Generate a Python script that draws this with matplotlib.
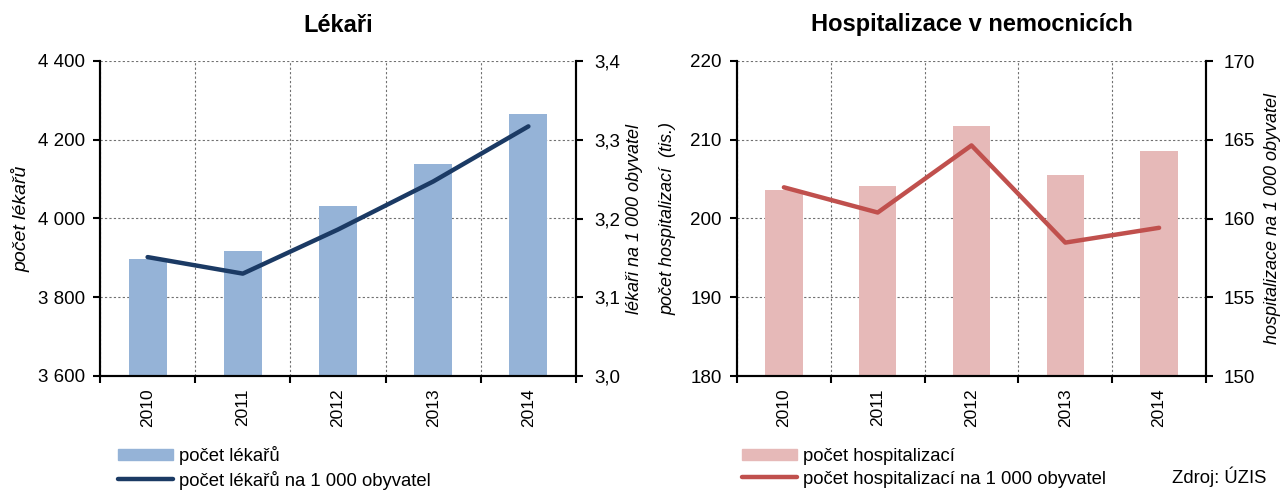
import numpy as np
import matplotlib
matplotlib.use("Agg")
import matplotlib.pyplot as plt
from matplotlib.ticker import FixedLocator, FuncFormatter
from matplotlib.patches import Patch
from matplotlib.lines import Line2D

years = ["2010", "2011", "2012", "2013", "2014"]

# Lekari
lekari_pocet = [3896, 3917, 4031, 4139, 4266]
lekari_na_1000 = [3.151, 3.130, 3.186, 3.247, 3.317]

# Hospitalizace (tis.)
hosp_pocet = [203.6, 204.1, 211.7, 205.5, 208.6]
hosp_na_1000 = [161.98, 160.38, 164.64, 158.47, 159.41]

plt.rcParams.update({'font.family': ['Liberation Sans', 'DejaVu Sans'],
                     'font.size': 12,
                     'axes.linewidth': 1.5})

W, H = 1284, 490
fig = plt.figure(figsize=(W / 100, H / 100), dpi=100)


def fmt_space(v, pos):
    return "{:,.0f}".format(v).replace(",", " ")


def fmt_comma(v, pos):
    return "{:.1f}".format(v).replace(".", ",")


def fmt_int(v, pos):
    return "{:.0f}".format(v)


def make_panel(x0, w, title, bars, line, ylim1, ylim2, step1, step2,
               f1, f2, lab1, lab2, c_bar, c_line, lab1x, lab2x, lab1size):
    ax = fig.add_axes([x0 / W, (H - 376) / H, w / W, 315 / H])
    ax2 = ax.twinx()
    x = np.arange(len(years))
    ax.bar(x, bars, width=0.4, color=c_bar, zorder=2)
    ax2.plot(x, line, color=c_line, lw=3.2, solid_capstyle='round', zorder=3)

    ax.set_xlim(-0.5, len(years) - 0.5)
    ax.set_ylim(*ylim1)
    ax2.set_ylim(*ylim2)
    ax.set_yticks(np.arange(ylim1[0], ylim1[1] + step1 / 2, step1))
    ax2.set_yticks(np.arange(ylim2[0], ylim2[1] + step2 / 2, step2))
    ax.yaxis.set_major_formatter(FuncFormatter(f1))
    ax2.yaxis.set_major_formatter(FuncFormatter(f2))

    ax.set_xticks(x)
    ax.set_xticklabels(years, rotation=90)
    ax.xaxis.set_minor_locator(FixedLocator(np.arange(-0.5, len(years), 1.0)))
    ax.tick_params(axis='x', which='major', length=0, pad=9, labelsize=12.5)
    ax.tick_params(axis='x', which='minor', length=5, width=1.5, direction='out')
    ax.tick_params(axis='y', length=5, width=1.5, direction='out', labelsize=13.5, pad=6)
    ax2.tick_params(axis='y', length=5, width=1.5, direction='out', labelsize=13.5, pad=8)

    ax.grid(True, which='minor', axis='x', color='#707070', ls=(0, (2, 2)), lw=0.8, zorder=1)
    ax.grid(True, which='major', axis='y', color='#707070', ls=(0, (2, 2)), lw=0.8, zorder=1)
    ax.grid(False, which='major', axis='x')

    for a in (ax, ax2):
        a.spines['top'].set_visible(False)
    ax.set_zorder(ax2.get_zorder() - 1)
    ax2.patch.set_visible(False)

    ax.set_ylabel(lab1, fontstyle='italic', fontsize=lab1size)
    ax.yaxis.set_label_coords(lab1x, 0.5)
    ax2.set_ylabel(lab2, fontstyle='italic', fontsize=13)
    ax2.yaxis.set_label_coords(lab2x, 0.5)

    fig.text((x0 + w / 2) / W, 1 - 25 / H, title, ha='center', va='center',
             fontsize=17, fontweight='bold')
    return ax, ax2


make_panel(100, 476, "Lékaři", lekari_pocet, lekari_na_1000,
           (3600, 4400), (3.0, 3.4), 200, 0.1, fmt_space, fmt_comma,
           "počet lékařů", "lékaři na 1 000 obyvatel",
           '#95B3D7', '#1B3A64', -0.145, 1.105, 14)
make_panel(737, 469, "Hospitalizace v nemocnicích", hosp_pocet, hosp_na_1000,
           (180, 220), (150, 170), 10, 5, fmt_int, fmt_int,
           "počet hospitalizací  (tis.)", "hospitalizace na 1 000 obyvatel",
           '#E6B9B8', '#C0504D', -0.130, 1.124, 13)

leg_kw = dict(loc='upper left', frameon=False, fontsize=13.3, handlelength=3.0,
              handleheight=0.6, handletextpad=0.3, labelspacing=0.3,
              borderaxespad=0, borderpad=0)
h1 = [Patch(color='#95B3D7'), Line2D([], [], color='#1B3A64', lw=3.2, solid_capstyle='round')]
fig.legend(h1, ["počet lékařů", "počet lékařů na 1 000 obyvatel"],
           bbox_to_anchor=(118 / W, 1 - 446 / H), **leg_kw)
h2 = [Patch(color='#E6B9B8'), Line2D([], [], color='#C0504D', lw=3.2, solid_capstyle='round')]
fig.legend(h2, ["počet hospitalizací", "počet hospitalizací na 1 000 obyvatel"],
           bbox_to_anchor=(742 / W, 1 - 448 / H), **leg_kw)

fig.text(1266 / W, 1 - 477 / H, "Zdroj: ÚZIS", ha='right', va='center', fontsize=13.3)

fig.savefig("out.png", dpi=100)
